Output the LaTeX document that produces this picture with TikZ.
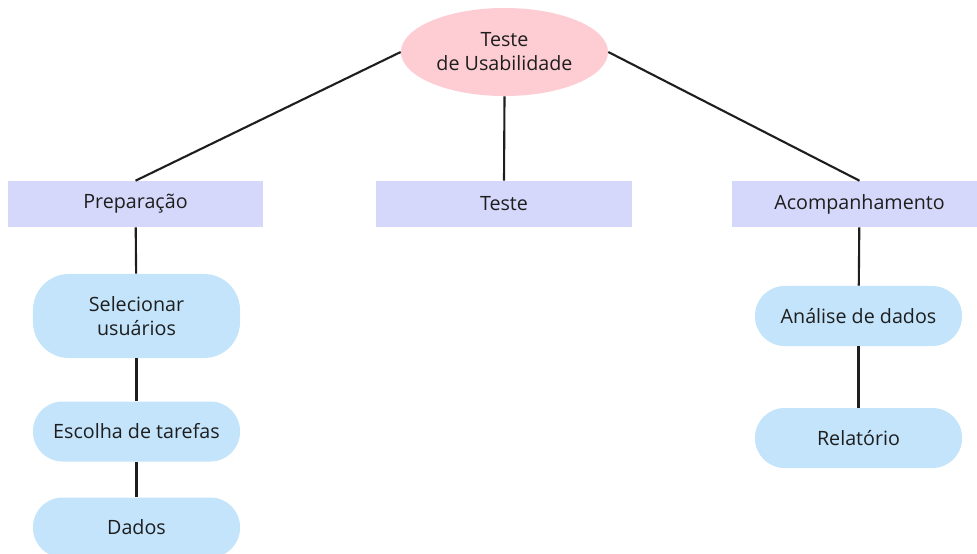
\documentclass[tikz,border=0pt]{standalone}
\usepackage{fontspec}
\setmainfont{Open Sans}
\usepackage{xcolor}
\usepackage{tikz}
\usetikzlibrary{shapes.geometric,positioning}
\definecolor{hubpink}{HTML}{FDCDD3}
\definecolor{phaselav}{HTML}{D5D8FA}
\definecolor{taskblue}{HTML}{C3E4FB}
\definecolor{inkgray}{HTML}{1E1E1E}
\tikzstyle{hub}=[
ellipse,
fill=hubpink,
minimum width=5.175cm,
minimum height=2.2cm,
align=center,
text=inkgray
]
\tikzstyle{phase}=[
rectangle,
fill=phaselav,
minimum width=6.375cm,
minimum height=1.15cm,
text=inkgray
]
\tikzstyle{task}=[
rectangle,
rounded corners=0.74cm,
fill=taskblue,
minimum width=5.175cm,
minimum height=1.5cm,
align=center,
text=inkgray
]
\tikzstyle{link}=[
line width=1.5pt,
inkgray
]

\begin{document}
\begin{tikzpicture}[x=0.025cm,y=-0.025cm,font=\fontsize{14}{17}\selectfont]

\useasboundingbox (0,0) rectangle (977,553);

\node (usab) [hub] at (504.5,52) {Teste\\de Usabilidade};

\node (prep) [phase] at (135.5,204) {Prepara\c{c}\~ao};
\node (teste) [phase] at (504,204) {Teste};
\node (acomp) [phase] at (859.5,204) {Acompanhamento};

\node (selec) [task, minimum height=2.1cm, rounded corners=0.9cm] at (136.5,316) {Selecionar\\usu\'arios};
\node (escolha) [task] at (136.5,431.5) {Escolha de tarefas};
\node (dados) [task] at (136.5,527.5) {Dados};

\node (analise) [task] at (858.5,316) {An\'alise de dados};
\node (relat) [task] at (858.5,438) {Relat\'orio};

\draw [link] (usab.west) -- (prep.north);
\draw [link] (usab.south) -- (teste.north);
\draw [link] (usab.east) -- (acomp.north);

\draw [link] (prep) -- (selec);
\draw [link] (selec) -- (escolha);
\draw [link] (escolha) -- (dados);

\draw [link] (acomp) -- (analise);
\draw [link] (analise) -- (relat);

\end{tikzpicture}
\end{document}
